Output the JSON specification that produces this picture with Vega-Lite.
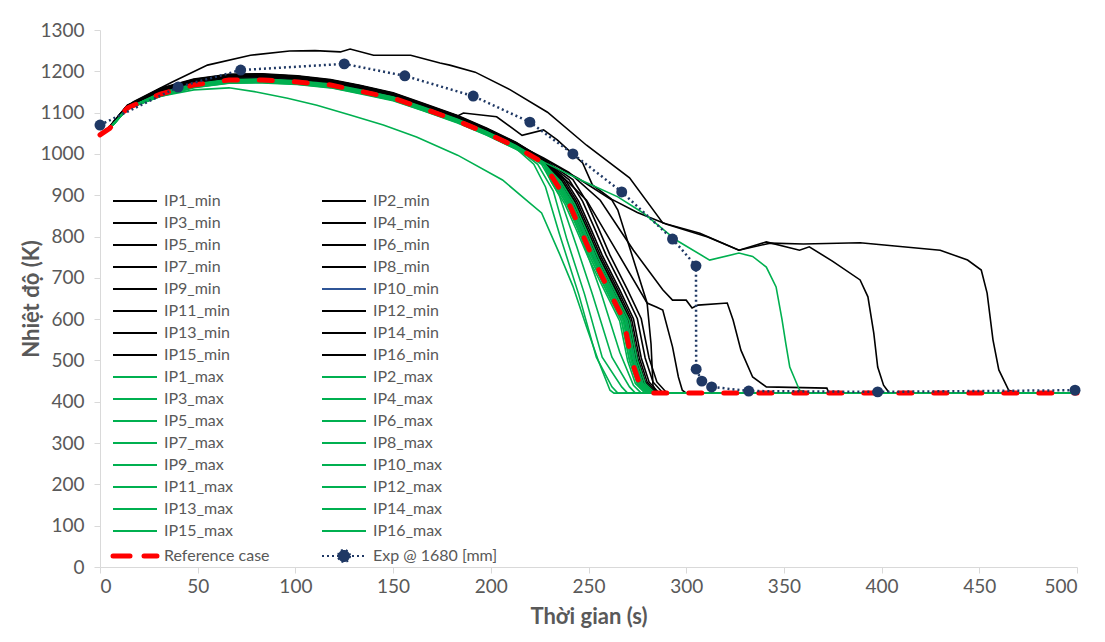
{
"$schema":"https://vega.github.io/schema/vega-lite/v6.json",
"autosize":"none",
"width":977,"height":537,
"padding":{"left":100,"top":30,"right":28,"bottom":75},
"background":"white",
"config":{"view":{"stroke":null},"font":"Lato"},
"datasets":{
"mins":[
{"s":"IP1_min","t":0,"v":1046},{"s":"IP1_min","t":5,"v":1066},{"s":"IP1_min","t":17,"v":1126},{"s":"IP1_min","t":37,"v":1174},{"s":"IP1_min","t":55,"v":1215},{"s":"IP1_min","t":77,"v":1239},{"s":"IP1_min","t":97,"v":1249},{"s":"IP1_min","t":110,"v":1250},{"s":"IP1_min","t":123,"v":1247},{"s":"IP1_min","t":128,"v":1254},{"s":"IP1_min","t":140,"v":1239},{"s":"IP1_min","t":159,"v":1239},{"s":"IP1_min","t":174,"v":1220},{"s":"IP1_min","t":179,"v":1215},{"s":"IP1_min","t":192,"v":1198},{"s":"IP1_min","t":210,"v":1155},{"s":"IP1_min","t":229,"v":1101},{"s":"IP1_min","t":249,"v":1021},{"s":"IP1_min","t":271,"v":942},{"s":"IP1_min","t":288,"v":833},{"s":"IP1_min","t":307,"v":808},{"s":"IP1_min","t":327,"v":767},{"s":"IP1_min","t":343,"v":784},{"s":"IP1_min","t":360,"v":782},{"s":"IP1_min","t":389,"v":785},{"s":"IP1_min","t":430,"v":767},{"s":"IP1_min","t":444,"v":743},{"s":"IP1_min","t":451,"v":719},{"s":"IP1_min","t":454,"v":663},{"s":"IP1_min","t":457,"v":550},{"s":"IP1_min","t":460,"v":477},{"s":"IP1_min","t":465,"v":428},{"s":"IP1_min","t":470,"v":421},{"s":"IP1_min","t":500,"v":421},
{"s":"IP2_min","t":0,"v":1046},{"s":"IP2_min","t":5,"v":1067},{"s":"IP2_min","t":14,"v":1118},{"s":"IP2_min","t":31,"v":1157},{"s":"IP2_min","t":48,"v":1179},{"s":"IP2_min","t":66,"v":1191},{"s":"IP2_min","t":83,"v":1192},{"s":"IP2_min","t":101,"v":1188},{"s":"IP2_min","t":118,"v":1178},{"s":"IP2_min","t":133,"v":1165},{"s":"IP2_min","t":150,"v":1146},{"s":"IP2_min","t":165,"v":1121},{"s":"IP2_min","t":183,"v":1092},{"s":"IP2_min","t":186,"v":1099},{"s":"IP2_min","t":203,"v":1090},{"s":"IP2_min","t":216,"v":1045},{"s":"IP2_min","t":227,"v":1058},{"s":"IP2_min","t":234,"v":1034},{"s":"IP2_min","t":247,"v":978},{"s":"IP2_min","t":252,"v":925},{"s":"IP2_min","t":262,"v":890},{"s":"IP2_min","t":275,"v":858},{"s":"IP2_min","t":290,"v":830},{"s":"IP2_min","t":311,"v":799},{"s":"IP2_min","t":327,"v":767},{"s":"IP2_min","t":341,"v":787},{"s":"IP2_min","t":358,"v":767},{"s":"IP2_min","t":363,"v":775},{"s":"IP2_min","t":375,"v":740},{"s":"IP2_min","t":389,"v":695},{"s":"IP2_min","t":393,"v":654},{"s":"IP2_min","t":396,"v":566},{"s":"IP2_min","t":398,"v":484},{"s":"IP2_min","t":401,"v":440},{"s":"IP2_min","t":404,"v":421},{"s":"IP2_min","t":500,"v":421},
{"s":"IP3_min","t":0,"v":1046},{"s":"IP3_min","t":5,"v":1066},{"s":"IP3_min","t":14,"v":1116},{"s":"IP3_min","t":31,"v":1152},{"s":"IP3_min","t":48,"v":1174},{"s":"IP3_min","t":66,"v":1186},{"s":"IP3_min","t":83,"v":1187},{"s":"IP3_min","t":101,"v":1182},{"s":"IP3_min","t":118,"v":1173},{"s":"IP3_min","t":133,"v":1159},{"s":"IP3_min","t":150,"v":1141},{"s":"IP3_min","t":165,"v":1116},{"s":"IP3_min","t":183,"v":1086},{"s":"IP3_min","t":198,"v":1055},{"s":"IP3_min","t":213,"v":1021},{"s":"IP3_min","t":227,"v":986},{"s":"IP3_min","t":240,"v":930},{"s":"IP3_min","t":249,"v":888},{"s":"IP3_min","t":265,"v":760},{"s":"IP3_min","t":280,"v":639},{"s":"IP3_min","t":282,"v":540},{"s":"IP3_min","t":283,"v":440},{"s":"IP3_min","t":285,"v":421},{"s":"IP3_min","t":500,"v":421},
{"s":"IP4_min","t":0,"v":1046},{"s":"IP4_min","t":5,"v":1066},{"s":"IP4_min","t":14,"v":1116},{"s":"IP4_min","t":31,"v":1154},{"s":"IP4_min","t":48,"v":1176},{"s":"IP4_min","t":66,"v":1188},{"s":"IP4_min","t":83,"v":1189},{"s":"IP4_min","t":101,"v":1184},{"s":"IP4_min","t":118,"v":1175},{"s":"IP4_min","t":133,"v":1161},{"s":"IP4_min","t":150,"v":1143},{"s":"IP4_min","t":165,"v":1118},{"s":"IP4_min","t":183,"v":1088},{"s":"IP4_min","t":198,"v":1057},{"s":"IP4_min","t":213,"v":1023},{"s":"IP4_min","t":227,"v":988},{"s":"IP4_min","t":245,"v":940},{"s":"IP4_min","t":262,"v":888},{"s":"IP4_min","t":265,"v":864},{"s":"IP4_min","t":280,"v":639},{"s":"IP4_min","t":285,"v":629},{"s":"IP4_min","t":288,"v":622},{"s":"IP4_min","t":293,"v":533},{"s":"IP4_min","t":296,"v":460},{"s":"IP4_min","t":298,"v":428},{"s":"IP4_min","t":300,"v":421},{"s":"IP4_min","t":500,"v":421},
{"s":"IP5_min","t":0,"v":1046},{"s":"IP5_min","t":5,"v":1066},{"s":"IP5_min","t":14,"v":1116},{"s":"IP5_min","t":31,"v":1155},{"s":"IP5_min","t":48,"v":1177},{"s":"IP5_min","t":66,"v":1189},{"s":"IP5_min","t":83,"v":1190},{"s":"IP5_min","t":101,"v":1185},{"s":"IP5_min","t":118,"v":1176},{"s":"IP5_min","t":133,"v":1162},{"s":"IP5_min","t":150,"v":1144},{"s":"IP5_min","t":165,"v":1119},{"s":"IP5_min","t":183,"v":1089},{"s":"IP5_min","t":198,"v":1058},{"s":"IP5_min","t":213,"v":1024},{"s":"IP5_min","t":227,"v":990},{"s":"IP5_min","t":240,"v":955},{"s":"IP5_min","t":256,"v":888},{"s":"IP5_min","t":273,"v":767},{"s":"IP5_min","t":288,"v":671},{"s":"IP5_min","t":293,"v":646},{"s":"IP5_min","t":300,"v":646},{"s":"IP5_min","t":303,"v":627},{"s":"IP5_min","t":306,"v":634},{"s":"IP5_min","t":321,"v":639},{"s":"IP5_min","t":324,"v":598},{"s":"IP5_min","t":328,"v":525},{"s":"IP5_min","t":334,"v":460},{"s":"IP5_min","t":341,"v":436},{"s":"IP5_min","t":372,"v":433},{"s":"IP5_min","t":373,"v":421},{"s":"IP5_min","t":500,"v":421},
{"s":"IP6_min","t":0,"v":1046},{"s":"IP6_min","t":5,"v":1066},{"s":"IP6_min","t":14,"v":1116},{"s":"IP6_min","t":31,"v":1155},{"s":"IP6_min","t":48,"v":1177},{"s":"IP6_min","t":66,"v":1189},{"s":"IP6_min","t":83,"v":1190},{"s":"IP6_min","t":101,"v":1185},{"s":"IP6_min","t":118,"v":1176},{"s":"IP6_min","t":133,"v":1162},{"s":"IP6_min","t":150,"v":1144},{"s":"IP6_min","t":165,"v":1119},{"s":"IP6_min","t":183,"v":1089},{"s":"IP6_min","t":198,"v":1058},{"s":"IP6_min","t":213,"v":1024},{"s":"IP6_min","t":227,"v":984},{"s":"IP6_min","t":234,"v":938},{"s":"IP6_min","t":241,"v":885},{"s":"IP6_min","t":247,"v":821},{"s":"IP6_min","t":253,"v":755},{"s":"IP6_min","t":262,"v":671},{"s":"IP6_min","t":269,"v":601},{"s":"IP6_min","t":273,"v":506},{"s":"IP6_min","t":277,"v":448},{"s":"IP6_min","t":282,"v":422},{"s":"IP6_min","t":500,"v":421},
{"s":"IP7_min","t":0,"v":1046},{"s":"IP7_min","t":5,"v":1066},{"s":"IP7_min","t":14,"v":1116},{"s":"IP7_min","t":31,"v":1150},{"s":"IP7_min","t":48,"v":1172},{"s":"IP7_min","t":66,"v":1184},{"s":"IP7_min","t":83,"v":1185},{"s":"IP7_min","t":101,"v":1180},{"s":"IP7_min","t":118,"v":1171},{"s":"IP7_min","t":133,"v":1157},{"s":"IP7_min","t":150,"v":1139},{"s":"IP7_min","t":165,"v":1114},{"s":"IP7_min","t":183,"v":1084},{"s":"IP7_min","t":198,"v":1053},{"s":"IP7_min","t":213,"v":1019},{"s":"IP7_min","t":227,"v":982},{"s":"IP7_min","t":235,"v":938},{"s":"IP7_min","t":242,"v":885},{"s":"IP7_min","t":248,"v":821},{"s":"IP7_min","t":254,"v":755},{"s":"IP7_min","t":263,"v":671},{"s":"IP7_min","t":270,"v":601},{"s":"IP7_min","t":274,"v":506},{"s":"IP7_min","t":278,"v":448},{"s":"IP7_min","t":283,"v":422},{"s":"IP7_min","t":500,"v":421},
{"s":"IP8_min","t":0,"v":1046},{"s":"IP8_min","t":5,"v":1066},{"s":"IP8_min","t":14,"v":1116},{"s":"IP8_min","t":31,"v":1158},{"s":"IP8_min","t":48,"v":1180},{"s":"IP8_min","t":66,"v":1192},{"s":"IP8_min","t":83,"v":1193},{"s":"IP8_min","t":101,"v":1188},{"s":"IP8_min","t":118,"v":1179},{"s":"IP8_min","t":133,"v":1165},{"s":"IP8_min","t":150,"v":1147},{"s":"IP8_min","t":165,"v":1122},{"s":"IP8_min","t":183,"v":1092},{"s":"IP8_min","t":198,"v":1061},{"s":"IP8_min","t":213,"v":1027},{"s":"IP8_min","t":227,"v":986},{"s":"IP8_min","t":236,"v":938},{"s":"IP8_min","t":243,"v":885},{"s":"IP8_min","t":249,"v":821},{"s":"IP8_min","t":255,"v":755},{"s":"IP8_min","t":264,"v":671},{"s":"IP8_min","t":271,"v":601},{"s":"IP8_min","t":275,"v":506},{"s":"IP8_min","t":279,"v":448},{"s":"IP8_min","t":284,"v":422},{"s":"IP8_min","t":500,"v":421},
{"s":"IP9_min","t":0,"v":1046},{"s":"IP9_min","t":5,"v":1066},{"s":"IP9_min","t":14,"v":1116},{"s":"IP9_min","t":31,"v":1153},{"s":"IP9_min","t":48,"v":1175},{"s":"IP9_min","t":66,"v":1187},{"s":"IP9_min","t":83,"v":1188},{"s":"IP9_min","t":101,"v":1183},{"s":"IP9_min","t":118,"v":1174},{"s":"IP9_min","t":133,"v":1160},{"s":"IP9_min","t":150,"v":1142},{"s":"IP9_min","t":165,"v":1117},{"s":"IP9_min","t":183,"v":1087},{"s":"IP9_min","t":198,"v":1056},{"s":"IP9_min","t":213,"v":1022},{"s":"IP9_min","t":227,"v":984},{"s":"IP9_min","t":233,"v":938},{"s":"IP9_min","t":240,"v":885},{"s":"IP9_min","t":246,"v":821},{"s":"IP9_min","t":252,"v":755},{"s":"IP9_min","t":261,"v":671},{"s":"IP9_min","t":268,"v":601},{"s":"IP9_min","t":272,"v":506},{"s":"IP9_min","t":276,"v":448},{"s":"IP9_min","t":281,"v":422},{"s":"IP9_min","t":500,"v":421},
{"s":"IP10_min","t":0,"v":1046},{"s":"IP10_min","t":5,"v":1066},{"s":"IP10_min","t":14,"v":1116},{"s":"IP10_min","t":31,"v":1151},{"s":"IP10_min","t":48,"v":1173},{"s":"IP10_min","t":66,"v":1185},{"s":"IP10_min","t":83,"v":1186},{"s":"IP10_min","t":101,"v":1181},{"s":"IP10_min","t":118,"v":1172},{"s":"IP10_min","t":133,"v":1158},{"s":"IP10_min","t":150,"v":1140},{"s":"IP10_min","t":165,"v":1115},{"s":"IP10_min","t":183,"v":1085},{"s":"IP10_min","t":198,"v":1054},{"s":"IP10_min","t":213,"v":1020},{"s":"IP10_min","t":227,"v":983},{"s":"IP10_min","t":234,"v":938},{"s":"IP10_min","t":241,"v":885},{"s":"IP10_min","t":247,"v":821},{"s":"IP10_min","t":253,"v":755},{"s":"IP10_min","t":262,"v":671},{"s":"IP10_min","t":269,"v":601},{"s":"IP10_min","t":273,"v":506},{"s":"IP10_min","t":277,"v":448},{"s":"IP10_min","t":282,"v":422},{"s":"IP10_min","t":500,"v":421},
{"s":"IP11_min","t":0,"v":1046},{"s":"IP11_min","t":5,"v":1066},{"s":"IP11_min","t":14,"v":1116},{"s":"IP11_min","t":31,"v":1157},{"s":"IP11_min","t":48,"v":1179},{"s":"IP11_min","t":66,"v":1191},{"s":"IP11_min","t":83,"v":1192},{"s":"IP11_min","t":101,"v":1187},{"s":"IP11_min","t":118,"v":1178},{"s":"IP11_min","t":133,"v":1164},{"s":"IP11_min","t":150,"v":1146},{"s":"IP11_min","t":165,"v":1121},{"s":"IP11_min","t":183,"v":1091},{"s":"IP11_min","t":198,"v":1060},{"s":"IP11_min","t":213,"v":1026},{"s":"IP11_min","t":227,"v":985},{"s":"IP11_min","t":237,"v":938},{"s":"IP11_min","t":244,"v":885},{"s":"IP11_min","t":250,"v":821},{"s":"IP11_min","t":256,"v":755},{"s":"IP11_min","t":265,"v":671},{"s":"IP11_min","t":272,"v":601},{"s":"IP11_min","t":276,"v":506},{"s":"IP11_min","t":280,"v":448},{"s":"IP11_min","t":285,"v":422},{"s":"IP11_min","t":500,"v":421},
{"s":"IP12_min","t":0,"v":1046},{"s":"IP12_min","t":5,"v":1066},{"s":"IP12_min","t":14,"v":1116},{"s":"IP12_min","t":31,"v":1149},{"s":"IP12_min","t":48,"v":1171},{"s":"IP12_min","t":66,"v":1183},{"s":"IP12_min","t":83,"v":1184},{"s":"IP12_min","t":101,"v":1179},{"s":"IP12_min","t":118,"v":1170},{"s":"IP12_min","t":133,"v":1156},{"s":"IP12_min","t":150,"v":1138},{"s":"IP12_min","t":165,"v":1113},{"s":"IP12_min","t":183,"v":1083},{"s":"IP12_min","t":198,"v":1052},{"s":"IP12_min","t":213,"v":1018},{"s":"IP12_min","t":227,"v":982},{"s":"IP12_min","t":238,"v":938},{"s":"IP12_min","t":245,"v":885},{"s":"IP12_min","t":251,"v":821},{"s":"IP12_min","t":257,"v":755},{"s":"IP12_min","t":266,"v":671},{"s":"IP12_min","t":273,"v":601},{"s":"IP12_min","t":277,"v":506},{"s":"IP12_min","t":281,"v":448},{"s":"IP12_min","t":286,"v":422},{"s":"IP12_min","t":500,"v":421},
{"s":"IP13_min","t":0,"v":1046},{"s":"IP13_min","t":5,"v":1066},{"s":"IP13_min","t":14,"v":1116},{"s":"IP13_min","t":31,"v":1154},{"s":"IP13_min","t":48,"v":1176},{"s":"IP13_min","t":66,"v":1188},{"s":"IP13_min","t":83,"v":1189},{"s":"IP13_min","t":101,"v":1184},{"s":"IP13_min","t":118,"v":1175},{"s":"IP13_min","t":133,"v":1161},{"s":"IP13_min","t":150,"v":1143},{"s":"IP13_min","t":165,"v":1118},{"s":"IP13_min","t":183,"v":1088},{"s":"IP13_min","t":198,"v":1057},{"s":"IP13_min","t":213,"v":1023},{"s":"IP13_min","t":227,"v":985},{"s":"IP13_min","t":240,"v":938},{"s":"IP13_min","t":247,"v":885},{"s":"IP13_min","t":253,"v":821},{"s":"IP13_min","t":259,"v":755},{"s":"IP13_min","t":268,"v":671},{"s":"IP13_min","t":275,"v":601},{"s":"IP13_min","t":279,"v":506},{"s":"IP13_min","t":283,"v":448},{"s":"IP13_min","t":288,"v":422},{"s":"IP13_min","t":500,"v":421},
{"s":"IP14_min","t":0,"v":1046},{"s":"IP14_min","t":5,"v":1066},{"s":"IP14_min","t":14,"v":1116},{"s":"IP14_min","t":31,"v":1156},{"s":"IP14_min","t":48,"v":1178},{"s":"IP14_min","t":66,"v":1190},{"s":"IP14_min","t":83,"v":1191},{"s":"IP14_min","t":101,"v":1186},{"s":"IP14_min","t":118,"v":1177},{"s":"IP14_min","t":133,"v":1163},{"s":"IP14_min","t":150,"v":1145},{"s":"IP14_min","t":165,"v":1120},{"s":"IP14_min","t":183,"v":1090},{"s":"IP14_min","t":198,"v":1059},{"s":"IP14_min","t":213,"v":1025},{"s":"IP14_min","t":227,"v":986},{"s":"IP14_min","t":242,"v":938},{"s":"IP14_min","t":249,"v":885},{"s":"IP14_min","t":255,"v":821},{"s":"IP14_min","t":261,"v":755},{"s":"IP14_min","t":270,"v":671},{"s":"IP14_min","t":277,"v":601},{"s":"IP14_min","t":281,"v":506},{"s":"IP14_min","t":285,"v":448},{"s":"IP14_min","t":290,"v":422},{"s":"IP14_min","t":500,"v":421},
{"s":"IP15_min","t":0,"v":1046},{"s":"IP15_min","t":5,"v":1066},{"s":"IP15_min","t":14,"v":1116},{"s":"IP15_min","t":31,"v":1152},{"s":"IP15_min","t":48,"v":1174},{"s":"IP15_min","t":66,"v":1186},{"s":"IP15_min","t":83,"v":1187},{"s":"IP15_min","t":101,"v":1182},{"s":"IP15_min","t":118,"v":1173},{"s":"IP15_min","t":133,"v":1159},{"s":"IP15_min","t":150,"v":1141},{"s":"IP15_min","t":165,"v":1116},{"s":"IP15_min","t":183,"v":1086},{"s":"IP15_min","t":198,"v":1055},{"s":"IP15_min","t":213,"v":1021},{"s":"IP15_min","t":227,"v":984},{"s":"IP15_min","t":235,"v":938},{"s":"IP15_min","t":242,"v":885},{"s":"IP15_min","t":248,"v":821},{"s":"IP15_min","t":254,"v":755},{"s":"IP15_min","t":263,"v":671},{"s":"IP15_min","t":270,"v":601},{"s":"IP15_min","t":274,"v":506},{"s":"IP15_min","t":278,"v":448},{"s":"IP15_min","t":283,"v":422},{"s":"IP15_min","t":500,"v":421},
{"s":"IP16_min","t":0,"v":1046},{"s":"IP16_min","t":5,"v":1066},{"s":"IP16_min","t":14,"v":1116},{"s":"IP16_min","t":31,"v":1159},{"s":"IP16_min","t":48,"v":1181},{"s":"IP16_min","t":66,"v":1193},{"s":"IP16_min","t":83,"v":1194},{"s":"IP16_min","t":101,"v":1189},{"s":"IP16_min","t":118,"v":1180},{"s":"IP16_min","t":133,"v":1166},{"s":"IP16_min","t":150,"v":1148},{"s":"IP16_min","t":165,"v":1123},{"s":"IP16_min","t":183,"v":1093},{"s":"IP16_min","t":198,"v":1062},{"s":"IP16_min","t":213,"v":1028},{"s":"IP16_min","t":227,"v":987},{"s":"IP16_min","t":236,"v":938},{"s":"IP16_min","t":243,"v":885},{"s":"IP16_min","t":249,"v":821},{"s":"IP16_min","t":255,"v":755},{"s":"IP16_min","t":264,"v":671},{"s":"IP16_min","t":271,"v":601},{"s":"IP16_min","t":275,"v":506},{"s":"IP16_min","t":279,"v":448},{"s":"IP16_min","t":284,"v":422},{"s":"IP16_min","t":500,"v":421}
],
"maxs":[
{"s":"IP1_max","t":0,"v":1046},{"s":"IP1_max","t":5,"v":1062},{"s":"IP1_max","t":14,"v":1108},{"s":"IP1_max","t":31,"v":1140},{"s":"IP1_max","t":48,"v":1155},{"s":"IP1_max","t":66,"v":1160},{"s":"IP1_max","t":80,"v":1150},{"s":"IP1_max","t":96,"v":1135},{"s":"IP1_max","t":111,"v":1118},{"s":"IP1_max","t":128,"v":1094},{"s":"IP1_max","t":145,"v":1070},{"s":"IP1_max","t":162,"v":1041},{"s":"IP1_max","t":183,"v":997},{"s":"IP1_max","t":206,"v":937},{"s":"IP1_max","t":220,"v":881},{"s":"IP1_max","t":226,"v":857},{"s":"IP1_max","t":235,"v":760},{"s":"IP1_max","t":242,"v":680},{"s":"IP1_max","t":249,"v":581},{"s":"IP1_max","t":255,"v":500},{"s":"IP1_max","t":261,"v":428},{"s":"IP1_max","t":263,"v":421},{"s":"IP1_max","t":500,"v":421},
{"s":"IP2_max","t":0,"v":1046},{"s":"IP2_max","t":5,"v":1062},{"s":"IP2_max","t":14,"v":1110},{"s":"IP2_max","t":31,"v":1143},{"s":"IP2_max","t":48,"v":1164},{"s":"IP2_max","t":66,"v":1175},{"s":"IP2_max","t":83,"v":1176},{"s":"IP2_max","t":101,"v":1172},{"s":"IP2_max","t":118,"v":1164},{"s":"IP2_max","t":133,"v":1150},{"s":"IP2_max","t":150,"v":1133},{"s":"IP2_max","t":165,"v":1109},{"s":"IP2_max","t":183,"v":1079},{"s":"IP2_max","t":198,"v":1049},{"s":"IP2_max","t":213,"v":1015},{"s":"IP2_max","t":225,"v":985},{"s":"IP2_max","t":246,"v":937},{"s":"IP2_max","t":265,"v":896},{"s":"IP2_max","t":278,"v":857},{"s":"IP2_max","t":295,"v":791},{"s":"IP2_max","t":312,"v":743},{"s":"IP2_max","t":327,"v":760},{"s":"IP2_max","t":334,"v":752},{"s":"IP2_max","t":341,"v":726},{"s":"IP2_max","t":346,"v":678},{"s":"IP2_max","t":349,"v":600},{"s":"IP2_max","t":351,"v":540},{"s":"IP2_max","t":353,"v":484},{"s":"IP2_max","t":358,"v":428},{"s":"IP2_max","t":362,"v":421},{"s":"IP2_max","t":500,"v":421},
{"s":"IP3_max","t":0,"v":1046},{"s":"IP3_max","t":5,"v":1062},{"s":"IP3_max","t":14,"v":1110},{"s":"IP3_max","t":31,"v":1141},{"s":"IP3_max","t":48,"v":1162},{"s":"IP3_max","t":66,"v":1173},{"s":"IP3_max","t":83,"v":1174},{"s":"IP3_max","t":101,"v":1170},{"s":"IP3_max","t":118,"v":1162},{"s":"IP3_max","t":133,"v":1148},{"s":"IP3_max","t":150,"v":1131},{"s":"IP3_max","t":165,"v":1107},{"s":"IP3_max","t":183,"v":1077},{"s":"IP3_max","t":198,"v":1047},{"s":"IP3_max","t":213,"v":1013},{"s":"IP3_max","t":222,"v":975},{"s":"IP3_max","t":228,"v":920},{"s":"IP3_max","t":235,"v":808},{"s":"IP3_max","t":245,"v":660},{"s":"IP3_max","t":254,"v":508},{"s":"IP3_max","t":262,"v":436},{"s":"IP3_max","t":265,"v":421},{"s":"IP3_max","t":500,"v":421},
{"s":"IP4_max","t":0,"v":1046},{"s":"IP4_max","t":5,"v":1062},{"s":"IP4_max","t":14,"v":1110},{"s":"IP4_max","t":31,"v":1144},{"s":"IP4_max","t":48,"v":1165},{"s":"IP4_max","t":66,"v":1176},{"s":"IP4_max","t":83,"v":1177},{"s":"IP4_max","t":101,"v":1173},{"s":"IP4_max","t":118,"v":1165},{"s":"IP4_max","t":133,"v":1151},{"s":"IP4_max","t":150,"v":1134},{"s":"IP4_max","t":165,"v":1110},{"s":"IP4_max","t":183,"v":1080},{"s":"IP4_max","t":198,"v":1050},{"s":"IP4_max","t":213,"v":1016},{"s":"IP4_max","t":224,"v":975},{"s":"IP4_max","t":232,"v":910},{"s":"IP4_max","t":239,"v":792},{"s":"IP4_max","t":248,"v":660},{"s":"IP4_max","t":257,"v":508},{"s":"IP4_max","t":267,"v":436},{"s":"IP4_max","t":270,"v":421},{"s":"IP4_max","t":500,"v":421},
{"s":"IP5_max","t":0,"v":1046},{"s":"IP5_max","t":5,"v":1062},{"s":"IP5_max","t":14,"v":1110},{"s":"IP5_max","t":31,"v":1142},{"s":"IP5_max","t":48,"v":1163},{"s":"IP5_max","t":66,"v":1174},{"s":"IP5_max","t":83,"v":1175},{"s":"IP5_max","t":101,"v":1171},{"s":"IP5_max","t":118,"v":1163},{"s":"IP5_max","t":133,"v":1149},{"s":"IP5_max","t":150,"v":1132},{"s":"IP5_max","t":165,"v":1108},{"s":"IP5_max","t":183,"v":1078},{"s":"IP5_max","t":198,"v":1048},{"s":"IP5_max","t":213,"v":1014},{"s":"IP5_max","t":226,"v":975},{"s":"IP5_max","t":235,"v":900},{"s":"IP5_max","t":244,"v":775},{"s":"IP5_max","t":252,"v":660},{"s":"IP5_max","t":262,"v":508},{"s":"IP5_max","t":271,"v":436},{"s":"IP5_max","t":274,"v":421},{"s":"IP5_max","t":500,"v":421},
{"s":"IP6_max","t":0,"v":1046},{"s":"IP6_max","t":5,"v":1062},{"s":"IP6_max","t":14,"v":1110},{"s":"IP6_max","t":31,"v":1145},{"s":"IP6_max","t":48,"v":1166},{"s":"IP6_max","t":66,"v":1177},{"s":"IP6_max","t":83,"v":1178},{"s":"IP6_max","t":101,"v":1174},{"s":"IP6_max","t":118,"v":1166},{"s":"IP6_max","t":133,"v":1152},{"s":"IP6_max","t":150,"v":1135},{"s":"IP6_max","t":165,"v":1111},{"s":"IP6_max","t":183,"v":1081},{"s":"IP6_max","t":198,"v":1051},{"s":"IP6_max","t":213,"v":1017},{"s":"IP6_max","t":228,"v":970},{"s":"IP6_max","t":238,"v":900},{"s":"IP6_max","t":247,"v":790},{"s":"IP6_max","t":256,"v":670},{"s":"IP6_max","t":266,"v":520},{"s":"IP6_max","t":273,"v":440},{"s":"IP6_max","t":277,"v":421},{"s":"IP6_max","t":500,"v":421},
{"s":"IP7_max","t":0,"v":1046},{"s":"IP7_max","t":5,"v":1062},{"s":"IP7_max","t":14,"v":1110},{"s":"IP7_max","t":31,"v":1146},{"s":"IP7_max","t":48,"v":1167},{"s":"IP7_max","t":66,"v":1178},{"s":"IP7_max","t":83,"v":1179},{"s":"IP7_max","t":101,"v":1175},{"s":"IP7_max","t":118,"v":1167},{"s":"IP7_max","t":133,"v":1153},{"s":"IP7_max","t":150,"v":1136},{"s":"IP7_max","t":165,"v":1112},{"s":"IP7_max","t":183,"v":1082},{"s":"IP7_max","t":198,"v":1052},{"s":"IP7_max","t":213,"v":1018},{"s":"IP7_max","t":227,"v":979},{"s":"IP7_max","t":232,"v":932},{"s":"IP7_max","t":239,"v":878},{"s":"IP7_max","t":245,"v":814},{"s":"IP7_max","t":251,"v":748},{"s":"IP7_max","t":260,"v":662},{"s":"IP7_max","t":267,"v":595},{"s":"IP7_max","t":271,"v":500},{"s":"IP7_max","t":275,"v":444},{"s":"IP7_max","t":280,"v":421},{"s":"IP7_max","t":500,"v":421},
{"s":"IP8_max","t":0,"v":1046},{"s":"IP8_max","t":5,"v":1062},{"s":"IP8_max","t":14,"v":1110},{"s":"IP8_max","t":31,"v":1141},{"s":"IP8_max","t":48,"v":1162},{"s":"IP8_max","t":66,"v":1173},{"s":"IP8_max","t":83,"v":1174},{"s":"IP8_max","t":101,"v":1170},{"s":"IP8_max","t":118,"v":1162},{"s":"IP8_max","t":133,"v":1148},{"s":"IP8_max","t":150,"v":1131},{"s":"IP8_max","t":165,"v":1107},{"s":"IP8_max","t":183,"v":1077},{"s":"IP8_max","t":198,"v":1047},{"s":"IP8_max","t":213,"v":1013},{"s":"IP8_max","t":227,"v":976},{"s":"IP8_max","t":233,"v":932},{"s":"IP8_max","t":240,"v":878},{"s":"IP8_max","t":246,"v":814},{"s":"IP8_max","t":252,"v":748},{"s":"IP8_max","t":261,"v":662},{"s":"IP8_max","t":268,"v":595},{"s":"IP8_max","t":272,"v":500},{"s":"IP8_max","t":276,"v":444},{"s":"IP8_max","t":281,"v":421},{"s":"IP8_max","t":500,"v":421},
{"s":"IP9_max","t":0,"v":1046},{"s":"IP9_max","t":5,"v":1062},{"s":"IP9_max","t":14,"v":1110},{"s":"IP9_max","t":31,"v":1148},{"s":"IP9_max","t":48,"v":1169},{"s":"IP9_max","t":66,"v":1180},{"s":"IP9_max","t":83,"v":1181},{"s":"IP9_max","t":101,"v":1177},{"s":"IP9_max","t":118,"v":1169},{"s":"IP9_max","t":133,"v":1155},{"s":"IP9_max","t":150,"v":1138},{"s":"IP9_max","t":165,"v":1114},{"s":"IP9_max","t":183,"v":1084},{"s":"IP9_max","t":198,"v":1054},{"s":"IP9_max","t":213,"v":1020},{"s":"IP9_max","t":227,"v":980},{"s":"IP9_max","t":234,"v":932},{"s":"IP9_max","t":241,"v":878},{"s":"IP9_max","t":247,"v":814},{"s":"IP9_max","t":253,"v":748},{"s":"IP9_max","t":262,"v":662},{"s":"IP9_max","t":269,"v":595},{"s":"IP9_max","t":273,"v":500},{"s":"IP9_max","t":277,"v":444},{"s":"IP9_max","t":282,"v":421},{"s":"IP9_max","t":500,"v":421},
{"s":"IP10_max","t":0,"v":1046},{"s":"IP10_max","t":5,"v":1062},{"s":"IP10_max","t":14,"v":1110},{"s":"IP10_max","t":31,"v":1139},{"s":"IP10_max","t":48,"v":1160},{"s":"IP10_max","t":66,"v":1171},{"s":"IP10_max","t":83,"v":1172},{"s":"IP10_max","t":101,"v":1168},{"s":"IP10_max","t":118,"v":1160},{"s":"IP10_max","t":133,"v":1146},{"s":"IP10_max","t":150,"v":1129},{"s":"IP10_max","t":165,"v":1105},{"s":"IP10_max","t":183,"v":1075},{"s":"IP10_max","t":198,"v":1045},{"s":"IP10_max","t":213,"v":1011},{"s":"IP10_max","t":227,"v":975},{"s":"IP10_max","t":231,"v":932},{"s":"IP10_max","t":238,"v":878},{"s":"IP10_max","t":244,"v":814},{"s":"IP10_max","t":250,"v":748},{"s":"IP10_max","t":259,"v":662},{"s":"IP10_max","t":266,"v":595},{"s":"IP10_max","t":270,"v":500},{"s":"IP10_max","t":274,"v":444},{"s":"IP10_max","t":279,"v":421},{"s":"IP10_max","t":500,"v":421},
{"s":"IP11_max","t":0,"v":1046},{"s":"IP11_max","t":5,"v":1062},{"s":"IP11_max","t":14,"v":1110},{"s":"IP11_max","t":31,"v":1143},{"s":"IP11_max","t":48,"v":1164},{"s":"IP11_max","t":66,"v":1175},{"s":"IP11_max","t":83,"v":1176},{"s":"IP11_max","t":101,"v":1172},{"s":"IP11_max","t":118,"v":1164},{"s":"IP11_max","t":133,"v":1150},{"s":"IP11_max","t":150,"v":1133},{"s":"IP11_max","t":165,"v":1109},{"s":"IP11_max","t":183,"v":1079},{"s":"IP11_max","t":198,"v":1049},{"s":"IP11_max","t":213,"v":1015},{"s":"IP11_max","t":227,"v":977},{"s":"IP11_max","t":235,"v":932},{"s":"IP11_max","t":242,"v":878},{"s":"IP11_max","t":248,"v":814},{"s":"IP11_max","t":254,"v":748},{"s":"IP11_max","t":263,"v":662},{"s":"IP11_max","t":270,"v":595},{"s":"IP11_max","t":274,"v":500},{"s":"IP11_max","t":278,"v":444},{"s":"IP11_max","t":283,"v":421},{"s":"IP11_max","t":500,"v":421},
{"s":"IP12_max","t":0,"v":1046},{"s":"IP12_max","t":5,"v":1062},{"s":"IP12_max","t":14,"v":1110},{"s":"IP12_max","t":31,"v":1145},{"s":"IP12_max","t":48,"v":1166},{"s":"IP12_max","t":66,"v":1177},{"s":"IP12_max","t":83,"v":1178},{"s":"IP12_max","t":101,"v":1174},{"s":"IP12_max","t":118,"v":1166},{"s":"IP12_max","t":133,"v":1152},{"s":"IP12_max","t":150,"v":1135},{"s":"IP12_max","t":165,"v":1111},{"s":"IP12_max","t":183,"v":1081},{"s":"IP12_max","t":198,"v":1051},{"s":"IP12_max","t":213,"v":1017},{"s":"IP12_max","t":227,"v":978},{"s":"IP12_max","t":233,"v":932},{"s":"IP12_max","t":240,"v":878},{"s":"IP12_max","t":246,"v":814},{"s":"IP12_max","t":252,"v":748},{"s":"IP12_max","t":261,"v":662},{"s":"IP12_max","t":268,"v":595},{"s":"IP12_max","t":272,"v":500},{"s":"IP12_max","t":276,"v":444},{"s":"IP12_max","t":281,"v":421},{"s":"IP12_max","t":500,"v":421},
{"s":"IP13_max","t":0,"v":1046},{"s":"IP13_max","t":5,"v":1062},{"s":"IP13_max","t":14,"v":1110},{"s":"IP13_max","t":31,"v":1140},{"s":"IP13_max","t":48,"v":1161},{"s":"IP13_max","t":66,"v":1172},{"s":"IP13_max","t":83,"v":1173},{"s":"IP13_max","t":101,"v":1169},{"s":"IP13_max","t":118,"v":1161},{"s":"IP13_max","t":133,"v":1147},{"s":"IP13_max","t":150,"v":1130},{"s":"IP13_max","t":165,"v":1106},{"s":"IP13_max","t":183,"v":1076},{"s":"IP13_max","t":198,"v":1046},{"s":"IP13_max","t":213,"v":1012},{"s":"IP13_max","t":227,"v":976},{"s":"IP13_max","t":234,"v":932},{"s":"IP13_max","t":241,"v":878},{"s":"IP13_max","t":247,"v":814},{"s":"IP13_max","t":253,"v":748},{"s":"IP13_max","t":262,"v":662},{"s":"IP13_max","t":269,"v":595},{"s":"IP13_max","t":273,"v":500},{"s":"IP13_max","t":277,"v":444},{"s":"IP13_max","t":282,"v":421},{"s":"IP13_max","t":500,"v":421},
{"s":"IP14_max","t":0,"v":1046},{"s":"IP14_max","t":5,"v":1062},{"s":"IP14_max","t":14,"v":1110},{"s":"IP14_max","t":31,"v":1147},{"s":"IP14_max","t":48,"v":1168},{"s":"IP14_max","t":66,"v":1179},{"s":"IP14_max","t":83,"v":1180},{"s":"IP14_max","t":101,"v":1176},{"s":"IP14_max","t":118,"v":1168},{"s":"IP14_max","t":133,"v":1154},{"s":"IP14_max","t":150,"v":1137},{"s":"IP14_max","t":165,"v":1113},{"s":"IP14_max","t":183,"v":1083},{"s":"IP14_max","t":198,"v":1053},{"s":"IP14_max","t":213,"v":1019},{"s":"IP14_max","t":227,"v":979},{"s":"IP14_max","t":232,"v":932},{"s":"IP14_max","t":239,"v":878},{"s":"IP14_max","t":245,"v":814},{"s":"IP14_max","t":251,"v":748},{"s":"IP14_max","t":260,"v":662},{"s":"IP14_max","t":267,"v":595},{"s":"IP14_max","t":271,"v":500},{"s":"IP14_max","t":275,"v":444},{"s":"IP14_max","t":280,"v":421},{"s":"IP14_max","t":500,"v":421},
{"s":"IP15_max","t":0,"v":1046},{"s":"IP15_max","t":5,"v":1062},{"s":"IP15_max","t":14,"v":1110},{"s":"IP15_max","t":31,"v":1142},{"s":"IP15_max","t":48,"v":1163},{"s":"IP15_max","t":66,"v":1174},{"s":"IP15_max","t":83,"v":1175},{"s":"IP15_max","t":101,"v":1171},{"s":"IP15_max","t":118,"v":1163},{"s":"IP15_max","t":133,"v":1149},{"s":"IP15_max","t":150,"v":1132},{"s":"IP15_max","t":165,"v":1108},{"s":"IP15_max","t":183,"v":1078},{"s":"IP15_max","t":198,"v":1048},{"s":"IP15_max","t":213,"v":1014},{"s":"IP15_max","t":227,"v":977},{"s":"IP15_max","t":236,"v":932},{"s":"IP15_max","t":243,"v":878},{"s":"IP15_max","t":249,"v":814},{"s":"IP15_max","t":255,"v":748},{"s":"IP15_max","t":264,"v":662},{"s":"IP15_max","t":271,"v":595},{"s":"IP15_max","t":275,"v":500},{"s":"IP15_max","t":279,"v":444},{"s":"IP15_max","t":284,"v":421},{"s":"IP15_max","t":500,"v":421},
{"s":"IP16_max","t":0,"v":1046},{"s":"IP16_max","t":5,"v":1062},{"s":"IP16_max","t":14,"v":1110},{"s":"IP16_max","t":31,"v":1144},{"s":"IP16_max","t":48,"v":1165},{"s":"IP16_max","t":66,"v":1176},{"s":"IP16_max","t":83,"v":1177},{"s":"IP16_max","t":101,"v":1173},{"s":"IP16_max","t":118,"v":1165},{"s":"IP16_max","t":133,"v":1151},{"s":"IP16_max","t":150,"v":1134},{"s":"IP16_max","t":165,"v":1110},{"s":"IP16_max","t":183,"v":1080},{"s":"IP16_max","t":198,"v":1050},{"s":"IP16_max","t":213,"v":1016},{"s":"IP16_max","t":227,"v":977},{"s":"IP16_max","t":233,"v":932},{"s":"IP16_max","t":240,"v":878},{"s":"IP16_max","t":246,"v":814},{"s":"IP16_max","t":252,"v":748},{"s":"IP16_max","t":261,"v":662},{"s":"IP16_max","t":268,"v":595},{"s":"IP16_max","t":272,"v":500},{"s":"IP16_max","t":276,"v":444},{"s":"IP16_max","t":281,"v":421},{"s":"IP16_max","t":500,"v":421}
],
"ref":[
{"s":"Reference case","t":0,"v":1046},{"s":"Reference case","t":5,"v":1062},{"s":"Reference case","t":14,"v":1111},{"s":"Reference case","t":31,"v":1145},{"s":"Reference case","t":48,"v":1167},{"s":"Reference case","t":66,"v":1179},{"s":"Reference case","t":83,"v":1179},{"s":"Reference case","t":101,"v":1174},{"s":"Reference case","t":118,"v":1167},{"s":"Reference case","t":133,"v":1152},{"s":"Reference case","t":150,"v":1135},{"s":"Reference case","t":165,"v":1111},{"s":"Reference case","t":183,"v":1080},{"s":"Reference case","t":198,"v":1050},{"s":"Reference case","t":213,"v":1017},{"s":"Reference case","t":227,"v":978},{"s":"Reference case","t":233,"v":932},{"s":"Reference case","t":240,"v":880},{"s":"Reference case","t":246,"v":816},{"s":"Reference case","t":252,"v":750},{"s":"Reference case","t":261,"v":665},{"s":"Reference case","t":268,"v":598},{"s":"Reference case","t":272,"v":501},{"s":"Reference case","t":276,"v":445},{"s":"Reference case","t":281,"v":421},{"s":"Reference case","t":500,"v":421}
],
"exp":[
{"s":"Exp @ 1680 [mm]","t":0,"v":1070},{"s":"Exp @ 1680 [mm]","t":40,"v":1162},{"s":"Exp @ 1680 [mm]","t":72,"v":1203},{"s":"Exp @ 1680 [mm]","t":125,"v":1218},{"s":"Exp @ 1680 [mm]","t":156,"v":1189},{"s":"Exp @ 1680 [mm]","t":191,"v":1140},{"s":"Exp @ 1680 [mm]","t":220,"v":1077},{"s":"Exp @ 1680 [mm]","t":242,"v":1000},{"s":"Exp @ 1680 [mm]","t":267,"v":908},{"s":"Exp @ 1680 [mm]","t":293,"v":794},{"s":"Exp @ 1680 [mm]","t":305,"v":729},{"s":"Exp @ 1680 [mm]","t":305.1,"v":479},{"s":"Exp @ 1680 [mm]","t":308,"v":450},{"s":"Exp @ 1680 [mm]","t":313,"v":436},{"s":"Exp @ 1680 [mm]","t":332,"v":426},{"s":"Exp @ 1680 [mm]","t":398,"v":424},{"s":"Exp @ 1680 [mm]","t":499,"v":428}
]
},
"encoding":{
"x":{"field":"t","type":"quantitative","scale":{"domain":[0,500],"nice":false,"zero":false},
 "axis":{"values":[0,50,100,150,200,250,300,350,400,450,500],"format":"d","grid":false,"domainColor":"#D9D9D9","domainWidth":1,"tickColor":"#D9D9D9","tickSize":6,"labelFont":"Lato","labelFontSize":19,"labelColor":"#595959","labelPadding":4,"title":"Thời gian (s)","titleFont":"Lato","titleFontSize":22,"titleFontWeight":"bold","titleColor":"#595959","titlePadding":10}},
"y":{"field":"v","type":"quantitative","scale":{"domain":[0,1300],"nice":false},
 "axis":{"values":[0,100,200,300,400,500,600,700,800,900,1000,1100,1200,1300],"format":"d","grid":false,"domainColor":"#D9D9D9","domainWidth":1,"tickColor":"#D9D9D9","tickSize":6,"labelFont":"Lato","labelFontSize":19,"labelColor":"#595959","labelPadding":10,"title":"Nhiệt độ (K)","titleFont":"Lato","titleFontSize":22,"titleFontWeight":"bold","titleColor":"#595959","titlePadding":-4}},
"color":{"field":"s","type":"nominal",
 "scale":{"domain":["IP1_min","IP2_min","IP3_min","IP4_min","IP5_min","IP6_min","IP7_min","IP8_min","IP9_min","IP10_min","IP11_min","IP12_min","IP13_min","IP14_min","IP15_min","IP16_min","IP1_max","IP2_max","IP3_max","IP4_max","IP5_max","IP6_max","IP7_max","IP8_max","IP9_max","IP10_max","IP11_max","IP12_max","IP13_max","IP14_max","IP15_max","IP16_max","Reference case","Exp @ 1680 [mm]"],
  "range":["#000000","#000000","#000000","#000000","#000000","#000000","#000000","#000000","#000000","#2F5597","#000000","#000000","#000000","#000000","#000000","#000000","#00B050","#00B050","#00B050","#00B050","#00B050","#00B050","#00B050","#00B050","#00B050","#00B050","#00B050","#00B050","#00B050","#00B050","#00B050","#00B050","#FF0000","#1F3864"]},
 "legend":{"title":null,"orient":"none","direction":"horizontal","legendX":13,"legendY":163,"columns":2,"columnPadding":48,"rowPadding":6,"symbolLimit":50,"symbolType":"M-3.14,0H3.14","symbolSize":196,"symbolStrokeWidth":2,"symbolOffset":14,"labelOffset":21,"labelFont":"Lato","labelFontSize":16,"labelColor":"#595959","labelLimit":300,
  "encode":{"symbols":{"update":{
   "shape":{"signal":"datum.value == 'Exp @ 1680 [mm]' ? 'M-3.14,0H3.14M0.86,0A0.86,0.86 0 1,1 -0.86,0A0.86,0.86 0 1,1 0.86,0Z' : 'M-3.14,0H3.14'"},
   "fill":{"signal":"datum.value == 'Exp @ 1680 [mm]' ? '#1F3864' : 'transparent'"},
   "strokeWidth":{"signal":"datum.value == 'Reference case' ? 5 : 2"},
   "strokeDash":{"signal":"datum.value == 'Reference case' ? [17,14] : (datum.value == 'Exp @ 1680 [mm]' ? [2,3] : [1,0])"},
   "strokeCap":{"signal":"datum.value == 'Reference case' ? 'round' : 'butt'"}
  }}}}}
},
"layer":[
 {"data":{"name":"mins"},"mark":{"type":"line","strokeWidth":1.6}},
 {"data":{"name":"maxs"},"mark":{"type":"line","strokeWidth":1.6}},
 {"data":{"name":"ref"},"mark":{"type":"line","strokeWidth":5,"strokeDash":[13,22],"strokeCap":"round"}},
 {"data":{"name":"exp"},"mark":{"type":"line","strokeWidth":2.5,"strokeDash":[2,3]}},
 {"data":{"name":"exp"},"mark":{"type":"point","filled":true,"size":120,"opacity":1},"encoding":{"color":{"value":"#1F3864"}}}
]
}
